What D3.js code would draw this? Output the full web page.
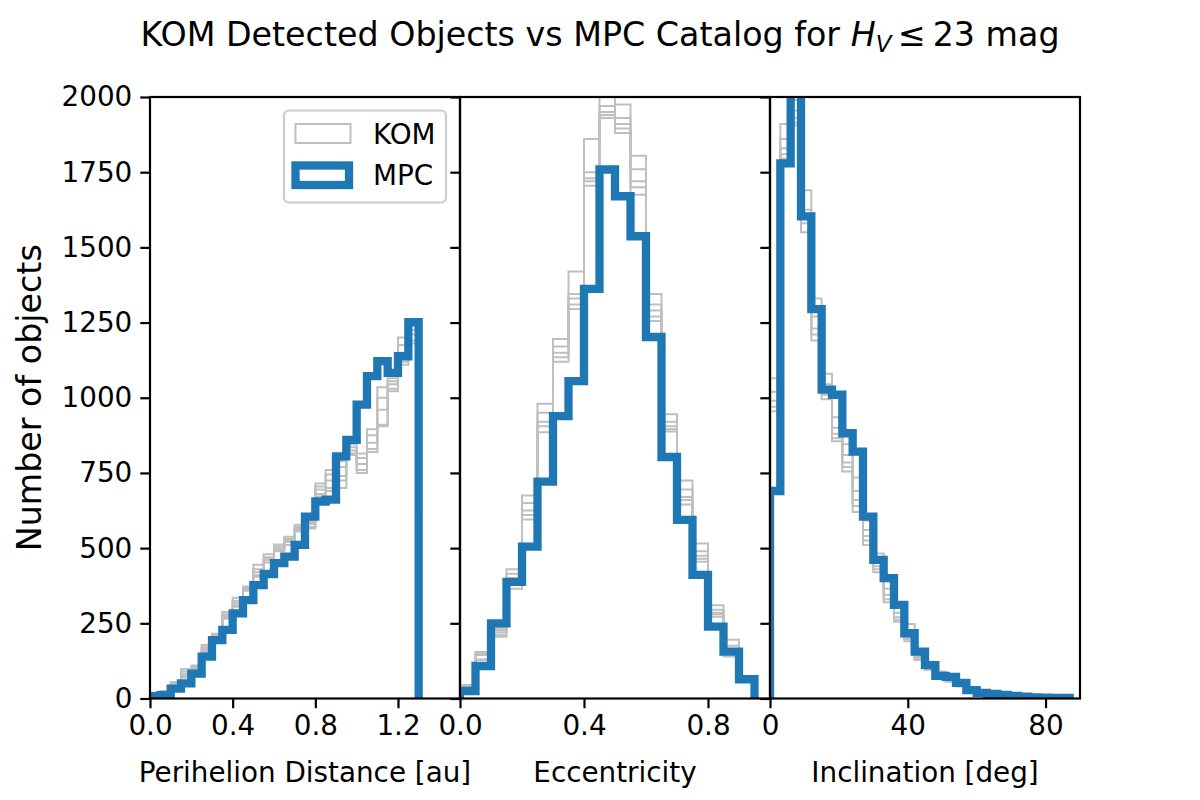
<!DOCTYPE html>
<html>
<head>
<meta charset="utf-8">
<script src="https://cdn.jsdelivr.net/npm/d3@7"></script>
<style>
  html, body { margin: 0; padding: 0; background: #fff; }
  svg { display: block; }
  text { font-family: "DejaVu Sans", sans-serif; fill: #000; }
</style>
</head>
<body>
<svg id="chart" width="1200" height="800"></svg>
<script>
// ---------------- DATA ----------------
const titleText = "KOM Detected Objects vs MPC Catalog for ";
const yLabel = "Number of objects";
const yTicks = [0, 250, 500, 750, 1000, 1250, 1500, 1750, 2000];
const seriesNames = ["KOM", "MPC"];

// Panel 1: perihelion distance (bin edges, au)
const qEdges = [0, 0.05, 0.1, 0.15, 0.2, 0.25, 0.3, 0.35, 0.4, 0.45, 0.5, 0.55, 0.6, 0.65, 0.7,
  0.75, 0.8, 0.85, 0.9, 0.95, 1.0, 1.05, 1.1, 1.15, 1.2, 1.25, 1.3];
const qTicks = [0.0, 0.4, 0.8, 1.2];
const qLabel = "Perihelion Distance [au]";
const mpcQ = [8, 11, 33, 50, 83, 139, 194, 228, 283, 327, 377, 414, 450, 472, 511, 605, 655, 661, 805, 860, 977, 1072, 1122, 1083, 1138, 1251];
const komQ1 = [10, 18, 45, 75, 95, 160, 200, 270, 310, 360, 410, 460, 495, 510, 560, 570, 680, 700, 700, 815, 760, 830, 910, 1030, 1120, 1190];
const komQ2 = [12, 22, 50, 90, 105, 170, 210, 280, 325, 365, 430, 470, 500, 525, 565, 580, 695, 725, 740, 825, 780, 850, 960, 1045, 1150, 1210];
const komQ3 = [9, 15, 42, 70, 100, 155, 195, 265, 318, 358, 445, 480, 505, 530, 570, 590, 705, 745, 770, 835, 800, 875, 1000, 1055, 1175, 1225];
const komQ4 = [14, 25, 55, 98, 110, 178, 215, 288, 335, 372, 405, 452, 512, 538, 578, 565, 715, 760, 790, 845, 815, 895, 1035, 1065, 1200, 1240];
const komQ5 = [11, 20, 48, 82, 92, 165, 205, 275, 305, 368, 420, 465, 490, 520, 555, 585, 672, 690, 725, 810, 750, 820, 905, 1022, 1110, 1180];

// Panel 2: eccentricity
const eEdges = [0, 0.05, 0.1, 0.15, 0.2, 0.25, 0.3, 0.35, 0.4, 0.45, 0.5, 0.55, 0.6, 0.65, 0.7,
  0.75, 0.8, 0.85, 0.9, 0.95];
const eTicks = [0.0, 0.4, 0.8];
const eLabel = "Eccentricity";
const mpcE = [25, 108, 250, 388, 505, 721, 939, 1055, 1362, 1759, 1670, 1537, 1202, 803, 594, 411, 239, 156, 64];
const komE1 = [38, 130, 205, 365, 595, 885, 1120, 1295, 1705, 1930, 1880, 1675, 1255, 888, 645, 455, 272, 140, 62];
const komE2 = [42, 145, 220, 400, 625, 920, 1150, 1330, 1730, 1950, 1910, 1720, 1290, 905, 670, 475, 285, 160, 68];
const komE3 = [40, 150, 228, 415, 650, 950, 1170, 1345, 1750, 1970, 1930, 1760, 1310, 920, 695, 490, 295, 175, 72];
const komE4 = [45, 155, 235, 430, 675, 980, 1195, 1420, 1860, 2005, 1975, 1805, 1345, 945, 725, 515, 310, 195, 75];
const komE5 = [36, 128, 212, 380, 610, 905, 1135, 1310, 1720, 1940, 1895, 1700, 1270, 895, 660, 465, 280, 150, 65];

// Panel 3: inclination (deg)
const iEdges = [0, 3, 6, 9, 12, 15, 18, 21, 24, 27, 30, 33, 36, 39, 42, 45, 48, 51, 54, 57, 60,
  63, 66, 69, 72, 75, 78, 81, 84, 87];
const iTicks = [0, 40, 80];
const iLabel = "Inclination [deg]";
const mpcI = [690, 1779, 2150, 1603, 1295, 1027, 1010, 882, 821, 605, 461, 400, 311, 217, 156, 111, 75, 72, 52, 28, 19, 15, 12, 9, 6, 4, 3, 2, 2];
const komI1 = [955, 1795, 1905, 1550, 1190, 995, 855, 755, 620, 510, 420, 320, 255, 190, 128, 96, 80, 56, 40, 28, 18, 12, 8, 6, 4, 3, 2, 1, 1];
const komI2 = [990, 1830, 1930, 1580, 1230, 1020, 880, 785, 660, 540, 440, 345, 270, 205, 133, 102, 84, 60, 43, 30, 20, 13, 9, 7, 5, 3, 2, 1, 1];
const komI3 = [1020, 1860, 1955, 1625, 1270, 1045, 900, 810, 690, 560, 455, 365, 285, 220, 138, 107, 86, 64, 46, 32, 22, 14, 10, 8, 5, 4, 3, 2, 1];
const komI4 = [1065, 1910, 1990, 1690, 1330, 1080, 935, 845, 735, 592, 482, 392, 302, 248, 145, 114, 90, 68, 50, 35, 24, 16, 12, 9, 6, 5, 3, 2, 2];
const komI5 = [970, 1810, 1915, 1600, 1210, 1010, 865, 770, 640, 525, 430, 330, 262, 198, 130, 99, 82, 58, 42, 29, 19, 12, 9, 6, 4, 3, 2, 1, 1];

// ---------------- LAYOUT ----------------
const plotTop = 97, plotBottom = 698.5;
const panels = [
  { x0: 150, x1: 460, domain: [0, 1.5], edges: qEdges, ticks: qTicks, label: qLabel, fmt: d3.format(".1f"),
    kom: [komQ1, komQ2, komQ3, komQ4, komQ5], mpc: mpcQ, yLabels: true },
  { x0: 460, x1: 770, domain: [0, 1.0], edges: eEdges, ticks: eTicks, label: eLabel, fmt: d3.format(".1f"),
    kom: [komE1, komE2, komE3, komE4, komE5], mpc: mpcE, yLabels: false },
  { x0: 770, x1: 1080, domain: [0, 90], edges: iEdges, ticks: iTicks, label: iLabel, fmt: d3.format("d"),
    kom: [komI1, komI2, komI3, komI4, komI5], mpc: mpcI, yLabels: false }
];
const grayColor = "#bfbfbf";
const blueColor = "#1f77b4";
const tickFont = 27.8;

const svg = d3.select("#chart");
const y = d3.scaleLinear().domain([0, 2000]).range([plotBottom, plotTop]);

function stepPoints(edges, vals) {
  const pts = [[edges[0], 0]];
  vals.forEach((v, i) => { pts.push([edges[i], v]); pts.push([edges[i + 1], v]); });
  pts.push([edges[edges.length - 1], 0]);
  return pts;
}

panels.forEach((p, pi) => {
  const x = d3.scaleLinear().domain(p.domain).range([p.x0, p.x1]);
  const clipId = "clip" + pi;
  svg.append("clipPath").attr("id", clipId)
    .append("rect").attr("x", p.x0).attr("y", plotTop).attr("width", p.x1 - p.x0).attr("height", plotBottom - plotTop);
  const g = svg.append("g").attr("clip-path", `url(#${clipId})`);
  const line = d3.line().x(d => x(d[0])).y(d => y(d[1]));

  p.kom.forEach(s => {
    g.append("path").attr("d", line(stepPoints(p.edges, s)))
      .attr("fill", "none").attr("stroke", grayColor).attr("stroke-width", 2)
      .attr("stroke-linejoin", "miter");
  });
  g.append("path").attr("d", line(stepPoints(p.edges, p.mpc)))
    .attr("fill", "none").attr("stroke", blueColor).attr("stroke-width", 8.3)
    .attr("stroke-linejoin", "miter");

  // x axis
  const xAxis = d3.axisBottom(x).tickValues(p.ticks).tickFormat(p.fmt).tickSize(9.7).tickPadding(6);
  const gx = svg.append("g").attr("transform", `translate(0,${plotBottom})`).call(xAxis);
  gx.select(".domain").remove();
  gx.selectAll(".tick line").attr("stroke", "#000").attr("stroke-width", 2.2);
  gx.selectAll(".tick text").attr("font-size", tickFont).attr("font-family", "DejaVu Sans").attr("fill", "#000")
    .attr("dy", "0.71em").attr("y", 17);

  // y axis
  const yAxis = d3.axisLeft(y).tickValues(yTicks).tickSize(9.7).tickPadding(8)
    .tickFormat(p.yLabels ? d3.format("d") : () => "");
  const gy = svg.append("g").attr("transform", `translate(${p.x0},0)`).call(yAxis);
  gy.select(".domain").remove();
  gy.selectAll(".tick line").attr("stroke", "#000").attr("stroke-width", 2.2);
  gy.selectAll(".tick text").attr("font-size", tickFont).attr("font-family", "DejaVu Sans").attr("fill", "#000");

  // frame
  svg.append("rect").attr("x", p.x0).attr("y", plotTop).attr("width", p.x1 - p.x0).attr("height", plotBottom - plotTop)
    .attr("fill", "none").attr("stroke", "#000").attr("stroke-width", 2.2);

  // x label
  svg.append("text").attr("x", (p.x0 + p.x1) / 2).attr("y", 782).attr("text-anchor", "middle")
    .attr("font-size", tickFont).text(p.label);
});

// y label
svg.append("text").attr("transform", `translate(41,${(plotTop + plotBottom) / 2}) rotate(-90)`)
  .attr("text-anchor", "middle").attr("font-size", 33.3).text(yLabel);

// title
const title = svg.append("text").attr("x", 600).attr("y", 46).attr("text-anchor", "middle").attr("font-size", 33.3);
title.append("tspan").text(titleText);
title.append("tspan").attr("font-style", "italic").text("H");
title.append("tspan").attr("font-size", 23).attr("font-style", "italic").attr("dy", 6).text("V");
title.append("tspan").attr("dy", -6).text("\u2009\u2264\u200923 mag");

// legend
const lg = svg.append("g");
lg.append("rect").attr("x", 284).attr("y", 110.5).attr("width", 162).attr("height", 92).attr("rx", 5)
  .attr("fill", "#fff").attr("fill-opacity", 0.8).attr("stroke", "#cccccc").attr("stroke-width", 2.2);
lg.append("rect").attr("x", 295.5).attr("y", 124).attr("width", 55).attr("height", 19)
  .attr("fill", "none").attr("stroke", grayColor).attr("stroke-width", 2);
lg.append("rect").attr("x", 295.5).attr("y", 165.5).attr("width", 53.5).attr("height", 19.5)
  .attr("fill", "none").attr("stroke", blueColor).attr("stroke-width", 8.3);
lg.append("text").attr("x", 373).attr("y", 143.5).attr("font-size", tickFont).text(seriesNames[0]);
lg.append("text").attr("x", 373).attr("y", 185).attr("font-size", tickFont).text(seriesNames[1]);
</script>
</body>
</html>
